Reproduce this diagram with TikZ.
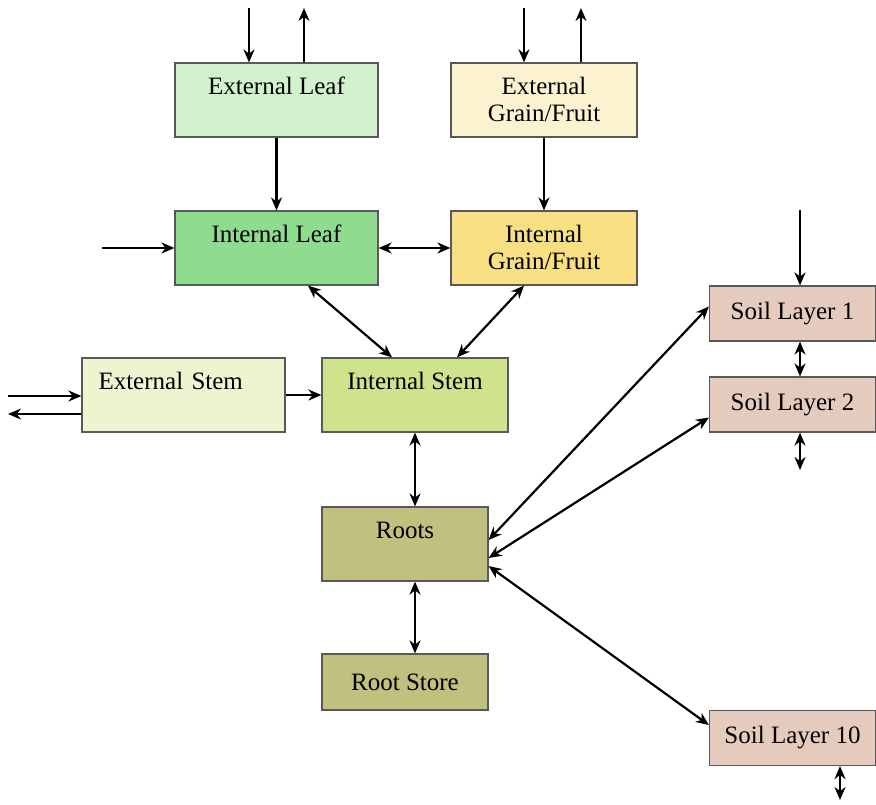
\documentclass[tikz,border=0pt]{standalone}
\usepackage{xcolor}
\usepackage{fontspec}
\setmainfont{Liberation Serif}
\usepackage{tikz}
\usetikzlibrary{arrows.meta, positioning, calc}

\definecolor{extleafcol}{HTML}{D2F2CE}
\definecolor{extgraincol}{HTML}{FBF3D0}
\definecolor{intleafcol}{HTML}{8FDB8F}
\definecolor{intgraincol}{HTML}{F8DF82}
\definecolor{extstemcol}{HTML}{ECF5D0}
\definecolor{intstemcol}{HTML}{CEE38B}
\definecolor{rootcol}{HTML}{C0C07F}
\definecolor{soilcol}{HTML}{E5CBBE}

\newcommand{\topstrut}{\rule{0pt}{12.45pt}}

\begin{document}
\begin{tikzpicture}[x=0.5pt, y=-0.5pt, >={Stealth[length=6.5pt, width=5.5pt]}, line width=1.1pt,
    box/.style={draw=black!65, line width=0.6pt, align=center, inner sep=0pt,
        minimum height=37pt, font=\fontsize{12.5}{13.5}\selectfont},
    wide/.style={box, minimum width=101.5pt},
    narrow/.style={box, minimum width=93pt},
    soil/.style={box, minimum width=83pt, minimum height=27.5pt, fill=soilcol}]
        \useasboundingbox (0,0) rectangle (876,804);

        \node[wide, fill=extleafcol] (extleaf) at (276.5,100) {External Leaf\topstrut\\\strut};
        \node[narrow, fill=extgraincol] (extgrain) at (544,100) {External\topstrut\\Grain/Fruit\strut};
        \node[wide, fill=intleafcol] (intleaf) at (276.5,248) {Internal Leaf\topstrut\\\strut};
        \node[narrow, fill=intgraincol] (intgrain) at (544,248) {Internal\topstrut\\Grain/Fruit\strut};
        \node[wide, fill=extstemcol, text width=85pt, align=left] (extstem) at (183.5,395) {External Stem\topstrut\\\strut};
        \node[narrow, fill=intstemcol] (intstem) at (415,395) {Internal Stem\topstrut\\\strut};
        \node[box, minimum width=83pt, fill=rootcol] (roots) at (405,544) {Roots\topstrut\\\strut};
        \node[box, minimum width=83pt, minimum height=28pt, fill=rootcol] (rootstore) at (405,682) {Root Store};
        \node[soil] (soil1) at (792.5,313.5) {Soil Layer 1};
        \node[soil] (soil2) at (792.5,404.5) {Soil Layer 2};
        \node[soil] (soil10) at (792.5,738) {Soil Layer 10};

        % free ends
        \coordinate (elin) at (249,8);
        \coordinate (elout) at (304,8);
        \coordinate (egin) at (524,8);
        \coordinate (egout) at (581,8);
        \coordinate (ilin) at (102,248);
        \coordinate (esin) at (8,396);
        \coordinate (esout) at (8,414);
        \coordinate (s1in) at (800,210);
        \coordinate (s2down) at (800,470);
        \coordinate (s10down) at (840,800);

        \path[->]
        (elin) edge (elin |- extleaf.north)
        (elout |- extleaf.north) edge (elout)
        (egin) edge (egin |- extgrain.north)
        (egout |- extgrain.north) edge (egout)
        (extleaf) edge (intleaf)
        (extgrain) edge (intgrain)
        (ilin) edge (intleaf)
        (esin) edge (esin -| extstem.west)
        (esout -| extstem.west) edge (esout)
        (extstem) edge (intstem)
        (s1in) edge (s1in |- soil1.north);

        \path[<->]
        (intleaf) edge (intgrain)
        (308,0 |- intleaf.south) edge (392,0 |- intstem.north)
        (524,0 |- intgrain.south) edge (457,0 |- intstem.north)
        (intstem.south) edge (intstem.south |- roots.north)
        (intstem.south |- roots.south) edge (intstem.south |- rootstore.north)
        ($(roots.east)+(0,-4)$) edge ($(soil1.west)+(0,-7)$)
        ($(roots.east)+(0,14)$) edge ($(soil2.west)+(0,13)$)
        ($(roots.east)+(0,22)$) edge ($(soil10.west)+(0,-13)$)
        (s1in |- soil1.south) edge (s1in |- soil2.north)
        (s1in |- soil2.south) edge (s2down)
        (s10down |- soil10.south) edge (s10down);

    \end{tikzpicture}
\end{document}
